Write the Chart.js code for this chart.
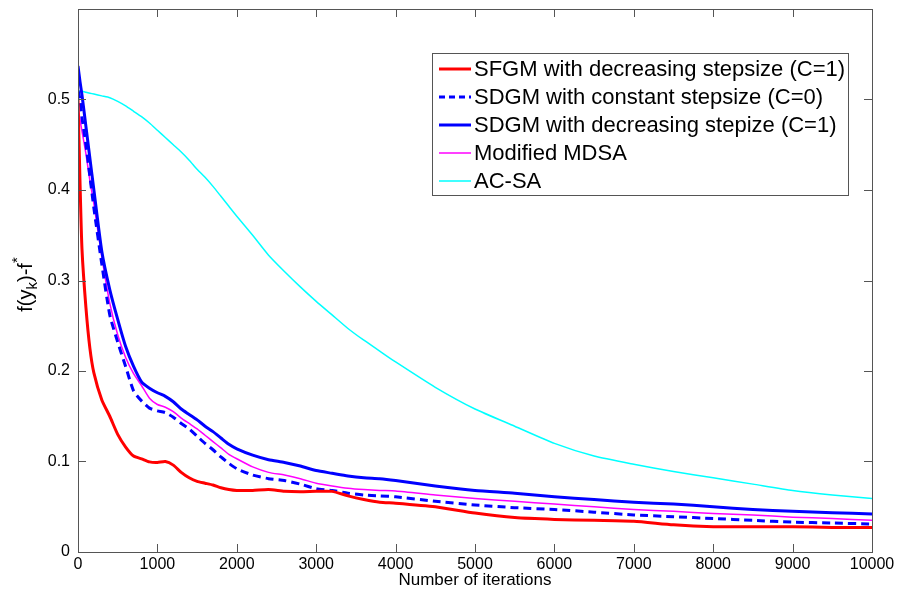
<!DOCTYPE html>
<html>
<head>
<meta charset="utf-8">
<script src="https://cdn.jsdelivr.net/npm/chart.js@4"></script>
<style>
  html, body { margin: 0; padding: 0; background: #fff; }
  #wrap { width: 897px; height: 594px; }
</style>
</head>
<body>
<div id="wrap"><canvas id="myChart" width="897" height="594"></canvas></div>
<script>
// Iteration counts (x axis)
const iterations = [0, 25, 50, 100, 150, 200, 300, 400, 500, 600, 700, 800, 900, 1000,
  1100, 1200, 1300, 1400, 1500, 1600, 1700, 1800, 1900, 2000, 2200, 2400, 2600, 2800,
  3000, 3200, 3400, 3600, 3800, 4000, 4500, 5000, 5500, 6000, 6500, 7000, 7500, 8000,
  8500, 9000, 9500, 10000];

// f(y_k)-f* for each method
const sfgmDecreasing = [0.50, 0.41, 0.335, 0.27, 0.225, 0.198, 0.168, 0.15, 0.13, 0.116,
  0.106, 0.103, 0.0996, 0.099, 0.1, 0.096, 0.088, 0.082, 0.078, 0.076, 0.074, 0.071,
  0.069, 0.068, 0.068, 0.069, 0.067, 0.0665, 0.067, 0.067, 0.062, 0.058, 0.055, 0.054,
  0.05, 0.043, 0.038, 0.036, 0.035, 0.034, 0.03, 0.028, 0.028, 0.028, 0.027, 0.027];
const sdgmConstant = [0.51, 0.5, 0.48, 0.45, 0.415, 0.38, 0.318, 0.262, 0.232, 0.205,
  0.178, 0.167, 0.159, 0.156, 0.154, 0.149, 0.142, 0.136, 0.128, 0.12, 0.113, 0.105,
  0.098, 0.092, 0.085, 0.081, 0.079, 0.075, 0.07, 0.068, 0.065, 0.063, 0.062, 0.061,
  0.056, 0.052, 0.049, 0.047, 0.044, 0.041, 0.039, 0.037, 0.035, 0.033, 0.032, 0.031];
const sdgmDecreasing = [0.537, 0.52, 0.505, 0.47, 0.435, 0.4, 0.332, 0.29, 0.257, 0.227,
  0.205, 0.188, 0.181, 0.176, 0.172, 0.166, 0.158, 0.152, 0.146, 0.139, 0.133, 0.126,
  0.119, 0.114, 0.107, 0.102, 0.099, 0.095, 0.09, 0.087, 0.084, 0.082, 0.081, 0.079,
  0.073, 0.068, 0.065, 0.061, 0.058, 0.055, 0.053, 0.05, 0.047, 0.045, 0.0435, 0.042];
const modifiedMdsa = [0.49, 0.478, 0.465, 0.44, 0.41, 0.385, 0.326, 0.275, 0.24, 0.215,
  0.197, 0.184, 0.17, 0.163, 0.16, 0.155, 0.148, 0.142, 0.136, 0.129, 0.122, 0.115,
  0.108, 0.103, 0.094, 0.088, 0.085, 0.081, 0.076, 0.073, 0.0705, 0.069, 0.068, 0.0675,
  0.063, 0.059, 0.056, 0.053, 0.05, 0.047, 0.045, 0.0425, 0.041, 0.0385, 0.037, 0.035];
const acSa = [0.509, 0.509, 0.509, 0.508, 0.507, 0.506, 0.504, 0.502, 0.498, 0.493,
  0.487, 0.481, 0.474, 0.466, 0.458, 0.45, 0.442, 0.433, 0.423, 0.414, 0.404, 0.393,
  0.382, 0.371, 0.35, 0.328, 0.31, 0.293, 0.277, 0.262, 0.247, 0.234, 0.222, 0.21,
  0.182, 0.158, 0.139, 0.12, 0.106, 0.097, 0.089, 0.082, 0.075, 0.068, 0.063, 0.059];

const seriesLabels = [
  "SFGM with decreasing stepsize (C=1)",
  "SDGM with constant stepsize (C=0)",
  "SDGM with decreasing stepize (C=1)",
  "Modified MDSA",
  "AC-SA",
];
const xTicks = [0, 1000, 2000, 3000, 4000, 5000, 6000, 7000, 8000, 9000, 10000];
const yTicks = [0, 0.1, 0.2, 0.3, 0.4, 0.5, 0.6];

const axisColor = "#555";
const FONT = "'Liberation Sans', Arial, sans-serif";

function toPoints(values) {
  return iterations.map((x, i) => ({ x: x, y: values[i] }));
}

const styles = [
  { color: "#ff0000", width: 3, dash: [] },
  { color: "#0000ff", width: 3, dash: [8, 5] },
  { color: "#0000ff", width: 3, dash: [] },
  { color: "#ff00ff", width: 1.5, dash: [] },
  { color: "#00ffff", width: 1.5, dash: [] },
];
const allValues = [sfgmDecreasing, sdgmConstant, sdgmDecreasing, modifiedMdsa, acSa];

const datasets = allValues.map((vals, i) => ({
  label: seriesLabels[i],
  data: toPoints(vals),
  borderColor: styles[i].color,
  borderWidth: styles[i].width,
  borderDash: styles[i].dash,
  pointRadius: 0,
  tension: 0.2,
  fill: false,
}));

// axes box, inward ticks, y title and legend box, like a matlab figure
const matlabFrame = {
  id: "matlabFrame",
  afterDraw(chart) {
    const ctx = chart.ctx;
    const a = chart.chartArea;
    const xs = chart.scales.x;
    const ys = chart.scales.y;
    ctx.save();
    ctx.strokeStyle = axisColor;
    ctx.lineWidth = 1;
    ctx.setLineDash([]);
    ctx.strokeRect(a.left + 0.5, a.top + 0.5, a.right - a.left, a.bottom - a.top);
    ctx.beginPath();
    xTicks.forEach((t) => {
      const px = Math.round(xs.getPixelForValue(t)) + 0.5;
      ctx.moveTo(px, a.bottom); ctx.lineTo(px, a.bottom - 8);
      ctx.moveTo(px, a.top); ctx.lineTo(px, a.top + 8);
    });
    yTicks.forEach((t) => {
      const py = Math.round(ys.getPixelForValue(t)) + 0.5;
      ctx.moveTo(a.left, py); ctx.lineTo(a.left + 8, py);
      ctx.moveTo(a.right, py); ctx.lineTo(a.right - 8, py);
    });
    ctx.stroke();

    // y axis title f(y_k)-f^*
    ctx.fillStyle = "#000";
    ctx.translate(32, (a.top + a.bottom) / 2 + 4);
    ctx.rotate(-Math.PI / 2);
    ctx.textBaseline = "alphabetic";
    ctx.textAlign = "left";
    const big = "20px " + FONT, small = "15px " + FONT;
    const parts = [["f(y", big, 0], ["k", small, 5], [")-f", big, 0], ["*", small, -10]];
    let total = 0;
    parts.forEach((p) => { ctx.font = p[1]; total += ctx.measureText(p[0]).width; });
    let cx = -total / 2;
    parts.forEach((p) => {
      ctx.font = p[1];
      ctx.fillText(p[0], cx, p[2]);
      cx += ctx.measureText(p[0]).width;
    });
    ctx.restore();

    // legend
    ctx.save();
    const boxR = a.right - 24, boxT = a.top + 44, boxW = 416, boxH = 142;
    const boxL = boxR - boxW;
    ctx.fillStyle = "#fff";
    ctx.fillRect(boxL, boxT, boxW, boxH);
    ctx.strokeStyle = axisColor;
    ctx.lineWidth = 1;
    ctx.strokeRect(boxL + 0.5, boxT + 0.5, boxW, boxH);
    ctx.font = "22px " + FONT;
    ctx.textBaseline = "middle";
    ctx.fillStyle = "#000";
    seriesLabels.forEach((lab, i) => {
      const y = boxT + 16 + i * 28;
      ctx.beginPath();
      ctx.strokeStyle = styles[i].color;
      ctx.lineWidth = styles[i].width;
      ctx.setLineDash(styles[i].dash.length ? [6, 4] : []);
      ctx.moveTo(boxL + 7, y); ctx.lineTo(boxL + 39, y);
      ctx.stroke();
      ctx.fillText(lab, boxL + 42, y + 1);
    });
    ctx.restore();
  },
};

const myChart = new Chart(document.getElementById("myChart"), {
  type: "line",
  data: { datasets: datasets },
  options: {
    responsive: false,
    animation: false,
    layout: { padding: { left: 0, top: 9, right: 25, bottom: 0 } },
    plugins: {
      legend: { display: false },
      tooltip: { enabled: false },
    },
    scales: {
      x: {
        type: "linear",
        min: 0,
        max: 10000,
        afterBuildTicks: (s) => { s.ticks = xTicks.map((v) => ({ value: v })); },
        afterFit: (s) => { s.height = 42; s.paddingLeft = 0; s.paddingRight = 0; },
        grid: { display: false, drawTicks: false },
        border: { display: false },
        ticks: {
          color: "#000",
          font: { family: FONT, size: 16 },
          padding: 3,
          maxRotation: 0,
          callback: (v) => String(v),
        },
        title: {
          display: true,
          text: "Number of iterations",
          color: "#000",
          font: { family: FONT, size: 17 },
          padding: { top: 0, bottom: 3 },
        },
      },
      y: {
        min: 0,
        max: 0.6,
        afterBuildTicks: (s) => { s.ticks = yTicks.map((v) => ({ value: v })); },
        afterFit: (s) => { s.width = 78; s.paddingTop = 0; s.paddingBottom = 0; },
        grid: { display: false, drawTicks: false },
        border: { display: false },
        ticks: {
          color: "#000",
          font: { family: FONT, size: 16 },
          padding: 8,
          callback: (v) => (v >= 0.55 ? "" : String(Math.round(v * 10) / 10)),
        },
      },
    },
  },
  plugins: [matlabFrame],
});
</script>
</body>
</html>
